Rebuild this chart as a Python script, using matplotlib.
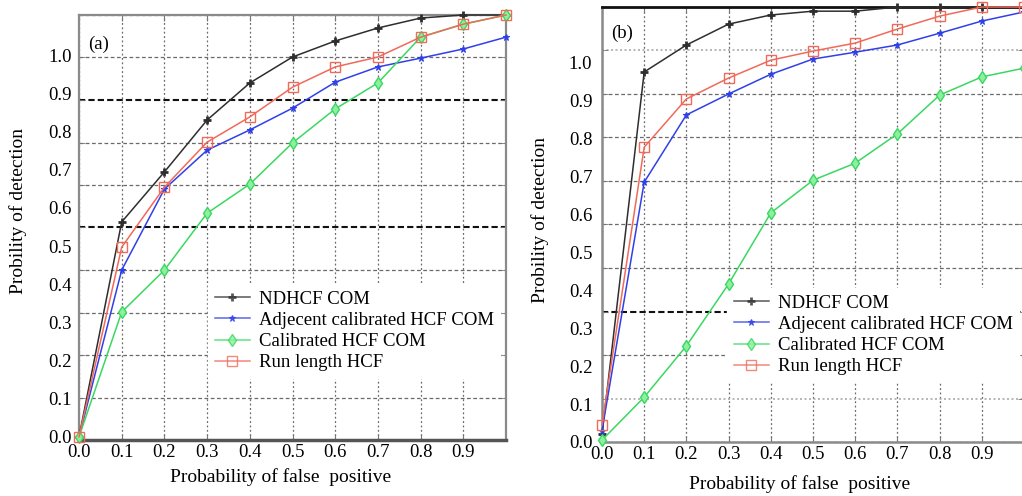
import numpy as np
import matplotlib
matplotlib.use("Agg")
import matplotlib.pyplot as plt

plt.rcParams['font.family'] = ['Liberation Serif', 'DejaVu Serif']

# ---------------- data ----------------
fpr = [0.0, 0.1, 0.2, 0.3, 0.4, 0.5, 0.6, 0.7, 0.8, 0.9, 1.0]
series_names = ["NDHCF COM", "Adjecent calibrated HCF COM",
                "Calibrated HCF COM", "Run length HCF"]

# panel (a)
a_ndhcf = [0.0, 0.563, 0.694, 0.830, 0.927, 0.995, 1.037, 1.071, 1.097, 1.105, 1.105]
a_adj = [0.0, 0.437, 0.649, 0.751, 0.804, 0.861, 0.929, 0.969, 0.992, 1.016, 1.047]
a_cal = [0.0, 0.327, 0.437, 0.586, 0.662, 0.770, 0.859, 0.927, 1.047, 1.081, 1.105]
a_run = [0.0, 0.497, 0.654, 0.772, 0.838, 0.916, 0.969, 0.995, 1.047, 1.081, 1.105]

# panel (b)
b_ndhcf = [0.02, 0.974, 1.045, 1.100, 1.124, 1.134, 1.134, 1.145, 1.145, 1.145, 1.145]
b_adj = [0.03, 0.684, 0.861, 0.916, 0.968, 1.008, 1.026, 1.045, 1.076, 1.108, 1.132]
b_cal = [0.005, 0.118, 0.253, 0.416, 0.603, 0.689, 0.734, 0.811, 0.913, 0.961, 0.984]
b_run = [0.045, 0.776, 0.903, 0.958, 1.005, 1.029, 1.050, 1.087, 1.121, 1.145, 1.145]

ytick_vals = [0.0, 0.1, 0.2, 0.3, 0.4, 0.5, 0.6, 0.7, 0.8, 0.9, 1.0]
ytick_labels = ["0.0", "0.1", "0.2", "0.3", "0.4", "0.5", "0.6", "0.7", "0.8", "0.9", "1.0"]
xtick_vals = [0.0, 0.1, 0.2, 0.3, 0.4, 0.5, 0.6, 0.7, 0.8, 0.9]
xtick_labels = ["0.0", "0.1", "0.2", "0.3", "0.4", "0.5", "0.6", "0.7", "0.8", "0.9"]

styles = [
    dict(color="#2e2e2e", marker="+", ms=6, mew=2.0, lw=1.1),
    dict(color="#3040e8", marker="*", ms=4.5, mew=0.8, lw=1.1),
    dict(color="#3ad860", marker="d", ms=6.5, mew=1.0, lw=1.1, mfc="#8cf0a0"),
    dict(color="#f06a5a", marker="s", ms=7, mew=1.0, lw=1.1, mfc="none"),
]

W, H = 1022, 496
fig = plt.figure(figsize=(W / 100, H / 100), dpi=100)
TICK_FS = 13.5
LABEL_FS = 14
LEG_FS = 13.5


def px_axes(l, t, r, b):
    return fig.add_axes([l / W, 1 - b / H, (r - l) / W, (b - t) / H])


def build(ax, data, ylim, ypad, tag, tagpos, gridstyles, legend_anchor,
          ylabel_coords, xlabel_coords):
    for vals, name, st in zip(data, series_names, styles):
        ax.plot(fpr, vals, label=name, clip_on=False, zorder=3, **st)
    ax.set_xlim(0, 1.0)
    ax.set_ylim(*ylim)
    ax.set_xticks(xtick_vals)
    ax.set_xticklabels(xtick_labels)
    ax.set_yticks(ytick_vals)
    ax.set_yticklabels(ytick_labels)
    grid_locs = np.linspace(ylim[0], ylim[1], 11)
    ax.set_yticks(grid_locs, minor=True)
    ax.yaxis.remove_overlapping_locs = False
    ax.tick_params(axis='y', which='major', length=0, pad=ypad, labelsize=TICK_FS)
    ax.tick_params(axis='y', which='minor', direction='in', length=4,
                   left=True, right=True, color="#777777")
    ax.tick_params(axis='x', which='major', direction='in', length=4,
                   top=True, pad=3.0, labelsize=TICK_FS, color="#777777")
    ax.grid(False)
    ax.xaxis.grid(True, which='major', color="#6a6a6a", lw=0.9,
                  linestyle=(0, (1.5, 2.0)))
    ax.yaxis.grid(True, which='minor', color="#6a6a6a", lw=0.9,
                  linestyle=(0, (3, 2)))
    ticks = ax.yaxis.get_minor_ticks(len(grid_locs))
    locs = ax.yaxis.get_minorticklocs()
    for idx, (c, lw, ls) in gridstyles.items():
        target = grid_locs[idx]
        j = int(np.argmin(np.abs(np.asarray(locs) - target)))
        ticks[j].gridline.set_color(c)
        ticks[j].gridline.set_linewidth(lw)
        ticks[j].gridline.set_linestyle(ls)
    ax.set_axisbelow(True)
    ax.text(*tagpos, tag, transform=ax.transAxes, fontsize=TICK_FS,
            ha='left', va='center')
    ax.set_xlabel("Probability of false  positive", fontsize=LABEL_FS)
    ax.set_ylabel("Probility of detection", fontsize=LABEL_FS, va='center', ha='center')
    ax.yaxis.set_label_coords(*ylabel_coords)
    ax.xaxis.set_label_coords(*xlabel_coords)
    leg = ax.legend(loc='upper left',
                    bbox_to_anchor=(legend_anchor[0] / W, 1 - legend_anchor[1] / H),
                    bbox_transform=fig.transFigure, frameon=True, fancybox=False,
                    framealpha=1.0, edgecolor='white', facecolor='white',
                    fontsize=LEG_FS, handlelength=1.9, handletextpad=0.45,
                    labelspacing=0.22, borderpad=0.35, borderaxespad=0)
    leg.set_zorder(2.5)
    for h in leg.get_lines():
        h.set_alpha(0.8)


# panel (a)
ax1 = px_axes(79, 15, 506, 440)
build(ax1, [a_ndhcf, a_adj, a_cal, a_run], (-0.008, 1.105), 5,
      "(a)", (0.022, 0.93),
      {8: ("#111111", 1.5, (0, (3, 1.5))), 5: ("#111111", 1.5, (0, (3, 1.5)))},
      (208, 284), (-0.143, 0.539), (0.471, -0.066))
for s in ['left', 'top', 'right']:
    ax1.spines[s].set_color("#8a8a8a")
    ax1.spines[s].set_linewidth(1.6)
ax1.spines['bottom'].set_color("#555555")
ax1.spines['bottom'].set_linewidth(2.5)

# panel (b)
ax2 = px_axes(602, 7, 1024, 442)
build(ax2, [b_ndhcf, b_adj, b_cal, b_run], (0.0, 1.145), 7,
      "(b)", (0.022, 0.94),
      {3: ("#111111", 1.5, (0, (3, 1.5))),
       9: ("#aaaaaa", 1.2, (0, (1.2, 1.5))),
       1: ("#aaaaaa", 1.2, (0, (1.2, 1.5)))},
      (727, 288), (-0.147, 0.51), (0.469, -0.076))
ax2.spines['top'].set_color("#111111")
ax2.spines['top'].set_linewidth(2.0)
for s in ['left', 'bottom']:
    ax2.spines[s].set_color("#8a8a8a")
    ax2.spines[s].set_linewidth(1.8)
ax2.spines['right'].set_visible(False)

fig.savefig("out.png", dpi=100)
